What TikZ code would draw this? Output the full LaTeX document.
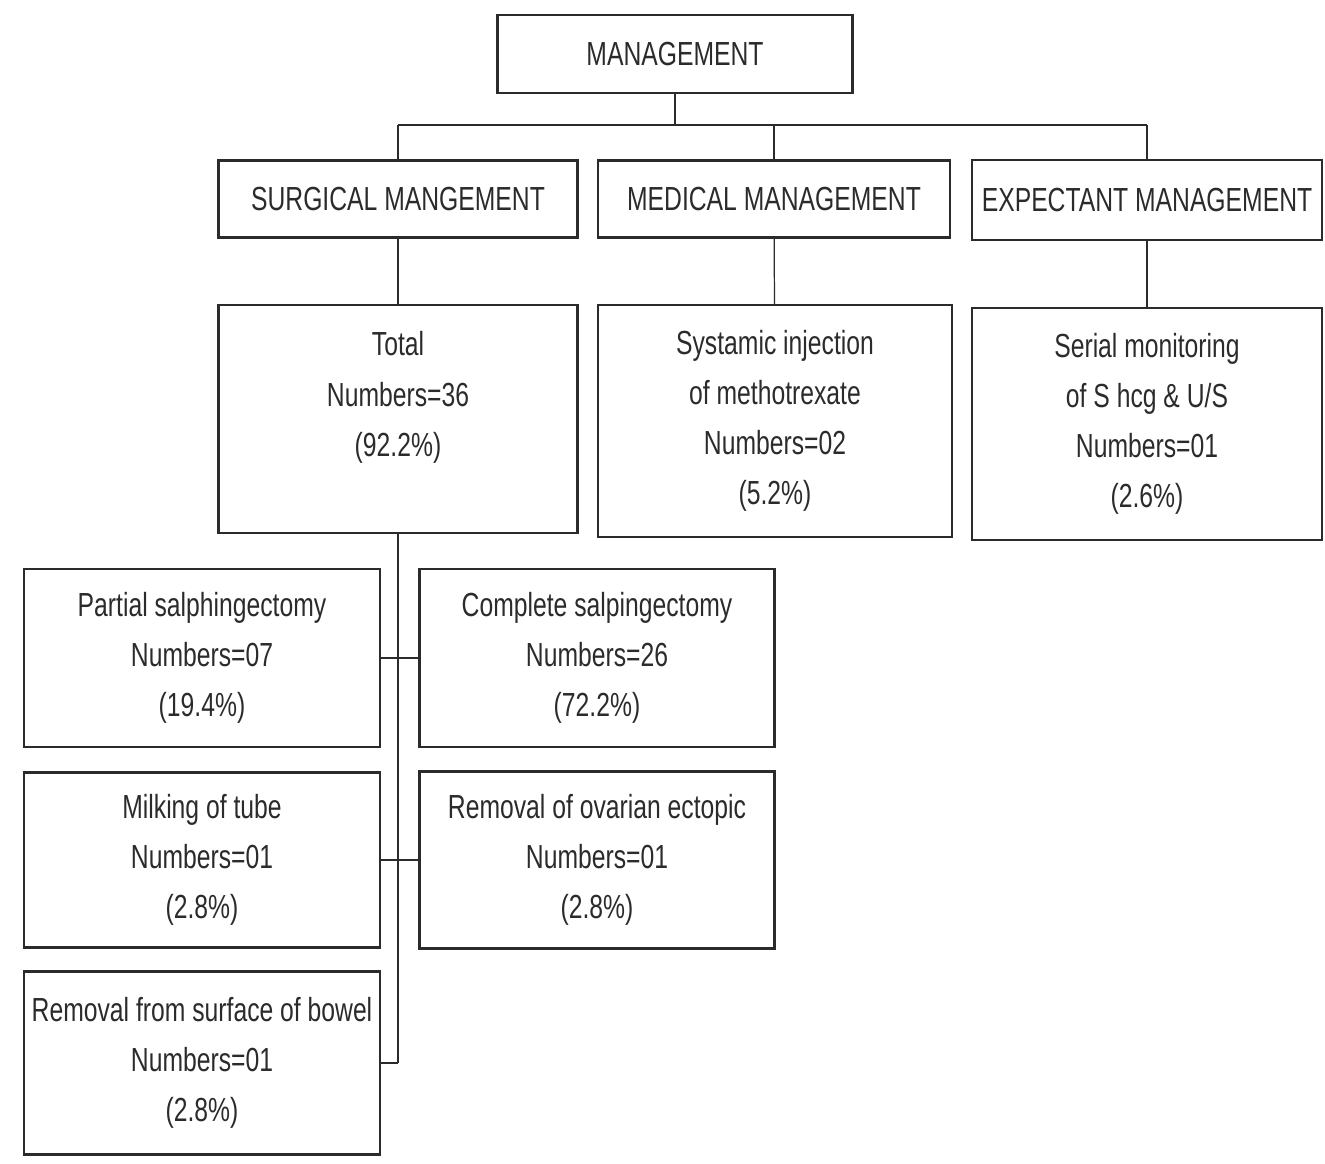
\documentclass[tikz,border=0pt]{standalone}
\usepackage{fontspec}
\setmainfont{Liberation Sans}[FakeStretch=0.74]
\usetikzlibrary{calc}

\definecolor{inkgray}{HTML}{2B2B2B}
\newcommand{\pxu}{0.2mm}

\tikzset{
  chartbox/.style 2 args={draw=inkgray, line width=1.2pt, text=inkgray,
    minimum width=#1*\pxu, minimum height=#2*\pxu, inner sep=0pt,
    align=center, font=\fontsize{19}{28.5}\selectfont},
  link/.style={draw=inkgray, line width=0.7pt}
}

\begin{document}
\begin{tikzpicture}[x=\pxu, y=-\pxu]
\useasboundingbox (0,0) rectangle (1325,1163);
% top
\node[chartbox={355}{78}] (mgmt) at (675,54) {MANAGEMENT};
% second level
\node[chartbox={359}{77}] (surg) at (398,199) {SURGICAL MANGEMENT};
\node[chartbox={352}{77}] (med) at (774,199) {MEDICAL MANAGEMENT};
\node[chartbox={350}{80}] (expt) at (1147,200) {EXPECTANT MANAGEMENT};
% third level
\node[chartbox={359}{228}] (total) at (398,419) {Total\\Numbers=36\\(92.2\%)\\\mbox{}};
\node[chartbox={354}{232}] (syst) at (775,421) {Systamic injection\\of methotrexate\\Numbers=02\\(5.2\%)};
\node[chartbox={350}{232}] (serial) at (1147,424) {Serial monitoring\\of S hcg \& U/S\\Numbers=01\\(2.6\%)};
% surgical breakdown
\node[chartbox={356}{178}] (partial) at (202,658) {Partial salphingectomy\\Numbers=07\\(19.4\%)};
\node[chartbox={355}{178}] (complete) at (597,658) {Complete salpingectomy\\Numbers=26\\(72.2\%)};
\node[chartbox={356}{175}] (milking) at (202,860) {Milking of tube\\Numbers=01\\(2.8\%)};
\node[chartbox={355}{177}] (ovarian) at (597,860) {Removal of ovarian ectopic\\Numbers=01\\(2.8\%)};
\node[chartbox={356}{183}] (bowel) at (202,1063) {Removal from surface of bowel\\Numbers=01\\(2.8\%)};

\coordinate (busL) at (398,125);
\coordinate (busR) at (1147,125);
\coordinate (spine) at (398,1063);

\draw[link] (busL) -- (busR);
\draw[link] (mgmt.south) -- (mgmt.south |- busL);
\draw[link] (busL) -- (surg.north);
\draw[link] (med.north |- busL) -- (med.north);
\draw[link] (busR) -- (expt.north);
\draw[link] (surg) -- (total);
\draw[link] (med) -- (syst);
\draw[link] (expt) -- (serial);
\draw[link] (total.south) -- (spine);
\draw[link] (partial.east) -- (complete.west);
\draw[link] (milking.east) -- (ovarian.west);
\draw[link] (bowel.east) -- (spine);
\end{tikzpicture}
\end{document}
